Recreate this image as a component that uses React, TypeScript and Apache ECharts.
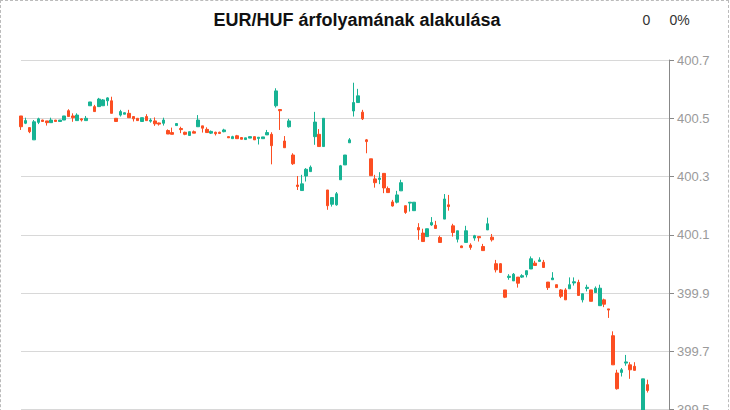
import React, { useEffect, useRef } from "react";
import * as echarts from "echarts";

const TITLE = "EUR/HUF árfolyamának alakulása";
const CHANGE_TEXT = "0";
const CHANGE_PCT_TEXT = "0%";
const Y_TICKS = ["399.3", "399.5", "399.7", "399.9", "400.1", "400.3", "400.5", "400.7"];

// One slot per period; null = no trade in that slot
const opens: (number | null)[] = [
  400.508, 400.483, 400.468, 400.426, 400.486, 400.494, 400.491, 400.485, 400.494, 400.489,
  400.494, 400.526, 400.508, 400.492, 400.498, 400.492, 400.543, 400.54, 400.54, 400.543,
  400.56, 400.56, 400.5, 400.511, 400.514, 400.517, 400.506, 400.5, 400.489, 400.506,
  400.49, 400.491, 400.484, 400.483, 400.458, 400.451, 400.475, 400.465, 400.452, 400.441,
  400.454, 400.471, 400.474, 400.462, 400.449, 400.452, 400.452, 400.454, 400.437, 400.43,
  400.44, 400.434, 400.427, 400.432, 400.437, 400.431, 400.43, 400.443, 400.445, 400.543,
  400.53, 400.422, 400.471, 400.374, 400.271, 400.252, 400.302, 400.317, 400.437, 400.445,
  400.403, 400.254, 400.205, 400.203, 400.289, 400.34, 400.416, 400.525, 400.554, 400.521,
  400.426, 400.361, 400.292, 400.29, 400.311, 400.259, 400.213, 400.212, 400.251, 400.2,
  400.209, 400.183, 400.125, 400.106, 400.094, 400.134, 400.133, 400.091, 400.154, 400.203,
  400.131, 400.085, 400.062, 400.074, 400.065, 400.089, 400.094, 400.06, 400.117, 400.092,
  400.001, 400.001, 399.911, 399.954, 399.942, 399.955, 399.955, 399.963, 399.983, 400.003,
  400.009, 400.006, 399.938, 399.946, 399.929, 399.911, 399.911, 399.915, 399.935, 399.937,
  399.877, 399.916, 399.911, 399.902, 399.857, 399.877, 399.846, 399.754, 399.626, 399.628,
  399.66, 399.654, 399.649, null, 399.45, 399.586, null, null, null, null, null,
];
const closes: (number | null)[] = [
  400.471, 400.492, 400.454, 400.488, 400.498, 400.489, 400.485, 400.494, 400.489, 400.494,
  400.508, 400.506, 400.502, 400.511, 400.494, 400.5, 400.556, 400.523, 400.566, 400.563,
  400.57, 400.517, 400.489, 400.523, 400.519, 400.502, 400.498, 400.492, 400.502, 400.492,
  400.494, 400.481, 400.48, 400.494, 400.446, 400.445, 400.482, 400.461, 400.445, 400.454,
  400.449, 400.494, 400.466, 400.451, 400.455, 400.447, 400.448, 400.46, 400.433, 400.437,
  400.43, 400.428, 400.433, 400.437, 400.426, 400.435, 400.436, 400.451, 400.406, 400.594,
  400.526, 400.399, 400.491, 400.344, 400.266, 400.275, 400.325, 400.332, 400.487, 400.403,
  400.5, 400.2, 400.228, 400.241, 400.337, 400.374, 400.426, 400.554, 400.577, 400.498,
  400.42, 400.303, 400.279, 400.295, 400.261, 400.245, 400.199, 400.237, 400.279, 400.177,
  400.212, 400.212, 400.117, 400.077, 400.121, 400.142, 400.122, 400.074, 400.223, 400.197,
  400.108, 400.114, 400.056, 400.114, 400.057, 400.097, 400.09, 400.046, 400.138, 400.083,
  399.98, 399.971, 399.886, 399.958, 399.965, 399.934, 399.96, 399.977, 400.018, 399.995,
  400.014, 399.988, 399.919, 399.952, 399.919, 399.889, 399.877, 399.929, 399.939, 399.892,
  399.898, 399.92, 399.872, 399.917, 399.917, 399.862, 399.842, 399.654, 399.572, 399.637,
  399.664, 399.637, 399.635, null, 399.606, 399.566, null, null, null, null, null,
];
const lows: (number | null)[] = [
  400.46, 400.48, 400.449, 400.426, 400.48, 400.488, 400.475, 400.485, 400.489, 400.489,
  400.494, 400.506, 400.488, 400.492, 400.489, 400.492, 400.543, 400.523, 400.54, 400.543,
  400.543, 400.517, 400.489, 400.506, 400.514, 400.502, 400.489, 400.492, 400.489, 400.492,
  400.485, 400.474, 400.475, 400.475, 400.446, 400.445, 400.475, 400.449, 400.442, 400.441,
  400.449, 400.471, 400.451, 400.451, 400.446, 400.441, 400.446, 400.452, 400.433, 400.43,
  400.43, 400.428, 400.427, 400.432, 400.426, 400.41, 400.43, 400.443, 400.342, 400.537,
  400.46, 400.399, 400.468, 400.34, 400.254, 400.252, 400.283, 400.317, 400.409, 400.403,
  400.403, 400.186, 400.197, 400.2, 400.289, 400.34, 400.416, 400.506, 400.554, 400.494,
  400.38, 400.303, 400.262, 400.274, 400.243, 400.245, 400.197, 400.208, 400.251, 400.172,
  400.18, 400.183, 400.083, 400.077, 400.094, 400.131, 400.122, 400.074, 400.154, 400.183,
  400.094, 400.074, 400.056, 400.074, 400.049, 400.08, 400.077, 400.046, 400.117, 400.077,
  399.971, 399.969, 399.883, 399.946, 399.942, 399.919, 399.952, 399.954, 399.983, 399.995,
  400.009, 399.988, 399.911, 399.946, 399.919, 399.883, 399.877, 399.915, 399.926, 399.892,
  399.868, 399.906, 399.872, 399.902, 399.857, 399.852, 399.815, 399.654, 399.569, 399.614,
  399.651, 399.606, 399.635, null, 399.45, 399.559, null, null, null, null, null,
];
const highs: (number | null)[] = [
  400.508, 400.502, 400.468, 400.494, 400.502, 400.495, 400.491, 400.502, 400.494, 400.494,
  400.508, 400.531, 400.517, 400.517, 400.5, 400.508, 400.556, 400.546, 400.57, 400.566,
  400.572, 400.574, 400.5, 400.529, 400.52, 400.529, 400.506, 400.5, 400.502, 400.514,
  400.5, 400.503, 400.485, 400.502, 400.462, 400.468, 400.482, 400.471, 400.454, 400.454,
  400.458, 400.511, 400.474, 400.469, 400.458, 400.454, 400.454, 400.464, 400.437, 400.44,
  400.443, 400.435, 400.433, 400.437, 400.437, 400.435, 400.436, 400.46, 400.452, 400.603,
  400.531, 400.439, 400.498, 400.38, 400.302, 400.306, 400.329, 400.338, 400.522, 400.463,
  400.5, 400.254, 400.228, 400.247, 400.34, 400.374, 400.432, 400.622, 400.601, 400.529,
  400.429, 400.361, 400.306, 400.315, 400.311, 400.266, 400.22, 400.251, 400.289, 400.2,
  400.212, 400.212, 400.14, 400.121, 400.121, 400.161, 400.148, 400.097, 400.24, 400.237,
  400.138, 400.114, 400.063, 400.131, 400.071, 400.1, 400.094, 400.069, 400.159, 400.103,
  400.014, 400.003, 399.911, 399.965, 399.969, 399.955, 399.965, 399.977, 400.026, 400.011,
  400.023, 400.014, 399.938, 399.972, 399.929, 399.914, 399.917, 399.954, 399.954, 399.946,
  399.898, 399.929, 399.911, 399.923, 399.929, 399.881, 399.846, 399.769, 399.637, 399.643,
  399.688, 399.663, 399.663, null, 399.606, 399.603, null, null, null, null, null,
];

const categories: string[] = opens.map((_, i) => String(i + 1));

const UP = "#17b394";
const DOWN = "#fc4e22";

export default function App() {
  const ref = useRef<HTMLDivElement>(null);
  useEffect(() => {
    if (!ref.current) return;
    const chart = echarts.init(ref.current, undefined, { renderer: "svg" });
    const data = opens.map((o, i) =>
      o === null ? "-" : [o, closes[i], lows[i], highs[i]]
    );
    chart.setOption({
      animation: false,
      graphic: [
        {
          type: "text",
          x: 356,
          y: 19,
          style: {
            text: TITLE,
            fill: "#111",
            font: "bold 18px 'Liberation Sans', Arial, sans-serif",
            textAlign: "center",
            textVerticalAlign: "middle",
          },
        },
        {
          type: "text",
          x: 645.5,
          y: 19,
          style: {
            text: CHANGE_TEXT,
            fill: "#333",
            font: "14px 'Liberation Sans', Arial, sans-serif",
            textAlign: "center",
            textVerticalAlign: "middle",
          },
        },
        {
          type: "text",
          x: 678.5,
          y: 19,
          style: {
            text: CHANGE_PCT_TEXT,
            fill: "#333",
            font: "14px 'Liberation Sans', Arial, sans-serif",
            textAlign: "center",
            textVerticalAlign: "middle",
          },
        },
      ],
      grid: { left: 20, right: 59, top: 59, bottom: 33, containLabel: false },
      xAxis: {
        type: "category",
        data: categories,
        boundaryGap: false,
        axisLine: { show: false },
        axisTick: { show: false },
        axisLabel: { show: false },
        splitLine: { show: false },
      },
      yAxis: {
        type: "value",
        position: "right",
        scale: true,
        min: 399.3,
        max: 400.7,
        interval: 0.2,
        axisLine: { show: true, lineStyle: { color: "#888" } },
        axisTick: { show: true, length: 5, lineStyle: { color: "#888" } },
        axisLabel: {
          color: "#9a9a9a",
          fontSize: 13,
          fontFamily: "'Liberation Sans', Arial, sans-serif",
          formatter: (v: number) => {
            const s = v.toFixed(1);
            return Y_TICKS.includes(s) ? s : "";
          },
        },
        splitLine: { show: true, lineStyle: { color: "#d8d8d8" } },
      },
      series: [
        {
          type: "candlestick",
          data,
          barWidth: 3,
          itemStyle: {
            color: UP,
            color0: DOWN,
            borderColor: UP,
            borderColor0: DOWN,
            borderWidth: 1,
          },
        },
      ],
    });
    return () => chart.dispose();
  }, []);
  return (
    <div
      style={{
        position: "absolute",
        left: 0,
        top: 0,
        width: 727,
        height: 500,
        border: "1px dashed #bbb",
      }}
    >
      <div ref={ref} style={{ width: 727, height: 500 }} />
    </div>
  );
}
